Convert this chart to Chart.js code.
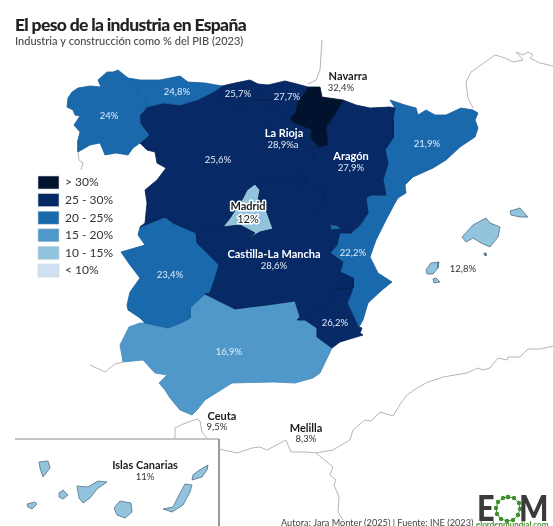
<!DOCTYPE html>
<html>
<head>
<meta charset="utf-8">
<title>El peso de la industria en España</title>
<script src="https://cdn.jsdelivr.net/npm/chart.js@4"></script>
<style>
  html, body { margin: 0; padding: 0; background: #fff; overflow: hidden; }
  canvas { display: block; }
</style>
</head>
<body>
<canvas id="map" width="553" height="526"></canvas>
<script>
// values (% of GDP)
const binLabels = ['> 30%', '25 - 30%', '20 - 25%', '15 - 20%', '10 - 15%', '< 10%']
const binFloors = [30, 25, 20, 15, 10, 0]
const binColors = ['#01122f', '#072a66', '#1b69ad', '#4f98c9', '#93c4de', '#cfe1f1']
const binEdges = ['#01122f', '#03204f', '#175d9c', '#4488b8', '#4f6f85', '#8fa6b8']

const regionNames = ['Galicia', 'Asturias', 'Cantabria', 'Pais Vasco', 'Castilla y Leon', 'La Rioja', 'Navarra', 'Aragon', 'Cataluna', 'Castilla-La Mancha', 'Extremadura', 'Valencia', 'Ademuz', 'Murcia', 'Andalucia', 'Madrid', 'Mallorca', 'Menorca', 'Cabrera', 'Ibiza', 'Formentera', 'La Palma', 'La Gomera', 'El Hierro', 'Tenerife', 'Gran Canaria', 'Fuerteventura', 'Lanzarote']
const regionValues = [24, 24.8, 25.7, 27.7, 25.6, 28.9, 32.4, 27.9, 21.9, 28.6, 23.4, 22.2, 22.2, 26.2, 16.9, 12, 12.8, 12.8, 12.8, 12.8, 12.8, 11, 11, 11, 11, 11, 11, 11]

// outlines in map units
const galicia = [[118,70],[113,72],[107,72],[98,80],[101,87],[90,86],[78,88],[72,92],[68,98],[67,107],[73,110],[75,115],[80,116],[74,125],[80,132],[78,140],[78,152],[90,145],[100,143],[103,150],[105,155],[116,153],[128,155],[133,148],[140,143],[149,135],[143,128],[140,123],[140,115],[147,107],[146,98],[138,95],[135,85],[140,80],[128,78]]
const asturias = [[140,80],[150,80],[160,80],[170,78],[180,76],[188,82],[205,83],[222,86],[213,92],[197,100],[180,105],[163,103],[147,107],[146,98],[138,95],[135,85]]
const cantabria = [[222,86],[235,83],[250,80],[258,84],[268,85],[262,92],[258,100],[252,101],[245,110],[233,112],[218,98],[213,92]]
const paisVasco = [[268,85],[285,81],[297,84],[308,87],[297,103],[295,113],[290,118],[277,112],[270,107],[272,100],[258,100],[262,92]]
const castillaLeon = [[147,107],[163,103],[180,105],[197,100],[213,92],[218,98],[233,112],[245,110],[252,101],[258,100],[272,100],[270,107],[277,112],[268,120],[270,128],[268,140],[285,143],[298,146],[311,147],[313,160],[303,172],[306,182],[296,185],[278,177],[260,183],[255,184],[247,190],[243,198],[230,218],[223,227],[213,225],[200,232],[196,233],[173,223],[165,217],[140,227],[145,223],[147,203],[145,190],[157,180],[166,168],[157,163],[155,152],[147,150],[140,143],[149,135],[140,123],[140,115]]
const rioja = [[277,112],[290,118],[293,123],[311,130],[310,138],[318,147],[311,147],[298,146],[285,143],[268,140],[270,128],[268,120]]
const navarra = [[308,87],[320,87],[322,97],[343,100],[336,113],[326,127],[328,145],[318,147],[310,138],[311,130],[293,123],[290,118],[295,113],[297,103]]
const aragon = [[343,100],[356,105],[370,108],[390,107],[395,108],[393,120],[393,138],[385,150],[388,163],[383,180],[386,195],[371,195],[366,198],[368,213],[360,225],[351,233],[342,229],[336,225],[330,225],[318,215],[325,203],[323,190],[306,182],[303,172],[313,160],[311,147],[318,147],[328,145],[326,127],[336,113]]
const cataluna = [[390,100],[405,105],[416,108],[418,115],[426,110],[435,115],[446,115],[461,108],[473,110],[478,113],[475,120],[478,128],[475,137],[460,147],[446,160],[433,168],[413,177],[405,185],[406,193],[398,198],[395,203],[386,195],[383,180],[388,163],[385,150],[393,138],[393,120],[395,108]]
const castillaMancha = [[255,184],[260,183],[278,177],[296,185],[306,182],[323,190],[325,203],[318,215],[330,225],[331,230],[342,229],[351,233],[340,233],[338,240],[337,245],[330,253],[343,262],[340,272],[353,278],[353,288],[337,288],[333,300],[307,313],[305,320],[297,320],[300,317],[295,301],[267,305],[250,307],[235,309],[205,294],[210,293],[215,278],[219,265],[207,253],[197,243],[196,233],[200,232],[213,225],[223,227],[240,225],[255,233],[248,239],[260,232],[273,229],[265,207],[258,200],[260,190]]
const extremadura = [[140,227],[165,217],[173,223],[196,233],[197,243],[207,253],[219,265],[215,278],[210,293],[205,294],[190,308],[190,318],[183,322],[168,328],[145,323],[140,318],[128,310],[127,305],[130,292],[140,278],[130,265],[121,252],[145,245],[138,235]]
const valencia = [[371,195],[386,195],[395,203],[386,220],[376,240],[370,257],[378,273],[392,282],[382,290],[368,303],[363,320],[359,327],[348,303],[353,290],[353,278],[340,272],[343,262],[330,253],[337,245],[338,240],[340,233],[351,233],[360,225],[368,213],[366,198]]
const ademuz = [[330,226],[336,225],[342,229],[336,232],[331,230]]
const murcia = [[353,288],[359,327],[362,328],[360,333],[363,335],[340,342],[332,348],[317,337],[317,328],[305,320],[307,313],[333,300],[337,288]]
const andalucia = [[205,294],[235,309],[250,307],[267,305],[295,301],[300,317],[297,320],[305,320],[317,328],[317,337],[332,348],[320,373],[313,378],[295,383],[273,382],[232,383],[205,400],[197,410],[192,415],[180,410],[170,398],[165,390],[159,383],[167,375],[155,373],[143,360],[123,362],[120,345],[129,327],[140,323],[145,323],[168,328],[183,322],[190,318],[190,308]]
const madrid = [[255,184],[260,190],[258,200],[265,207],[273,229],[260,232],[248,239],[255,233],[240,225],[223,227],[230,218],[243,198],[247,190]]
const mallorca = [[462,237],[473,225],[486,218],[490,223],[500,227],[498,237],[490,247],[481,243],[473,238],[466,242]]
const menorca = [[510,211],[520,208],[528,217],[520,217],[511,215]]
const cabrera = [[484,253],[486,253],[486,256],[484,255]]
const ibiza = [[426,270],[431,263],[439,262],[438,268],[433,274],[427,274]]
const formentera = [[433,279],[436,278],[440,282],[434,283]]
const laPalma = [[39,462],[48,461],[50,468],[43,477],[40,468]]
const gomera = [[59,493],[63,490],[68,495],[63,499],[59,497]]
const hierro = [[27,504],[35,502],[37,504],[32,509],[28,507]]
const tenerife = [[77,486],[88,487],[98,481],[107,482],[97,489],[90,498],[83,503],[79,498]]
const granCanaria = [[120,501],[131,503],[132,512],[125,518],[117,515],[114,508]]
const fuerteventura = [[185,484],[192,485],[190,492],[183,505],[172,512],[163,509],[173,507],[178,497]]
const lanzarote = [[198,471],[208,465],[207,470],[202,477],[192,480],[193,475]]
const regionShapes = [galicia, asturias, cantabria, paisVasco, castillaLeon, rioja, navarra, aragon, cataluna, castillaMancha, extremadura, valencia, ademuz, murcia, andalucia, madrid, mallorca, menorca, cabrera, ibiza, formentera, laPalma, gomera, hierro, tenerife, granCanaria, fuerteventura, lanzarote]

// neighbouring coasts and borders, grey lines only
const franceWest = [[322,40],[321,55],[320,70],[316,80],[308,84]]
const franceEast = [[473,108],[468,98],[466,82],[471,72],[481,65],[495,55],[505,58],[513,62],[523,60],[516,52],[523,55],[528,52],[533,55],[530,58],[540,63],[553,66]]
const portugalNorth = [[78,152],[79,160],[83,163],[81,170]]
const portugalSouth = [[90,365],[105,372],[115,364],[123,362]]
const ceutaCoast = [[175,438],[175,428],[183,424],[197,419],[200,421],[202,432],[207,438]]
const moroccoCoast = [[219,449],[237,453],[252,448],[260,447],[267,450],[286,440],[288,445],[291,452],[306,452],[316,453],[333,450],[350,440],[353,430],[365,420],[371,421],[380,412],[393,416],[401,403],[407,395],[417,388],[428,382],[443,377],[467,373],[478,368],[483,370],[490,368],[498,358],[507,360],[508,357],[520,357],[528,349],[540,349],[553,346]]
const algeriaBorder = [[316,453],[333,467],[330,475],[336,480],[334,485],[339,497],[338,512],[343,520]]
const greyLines = [franceWest, franceEast, portugalNorth, portugalSouth, ceutaCoast, moroccoCoast, algeriaBorder]

const canariasBox = [[15,439],[219,439],[219,526]]
const logoRing = [[508,497],[514,498],[519,503],[520,509],[518,515],[513,520],[507,521],[501,519],[497,514],[496,508],[498,502],[503,498],[508,497]]

const titleText = 'El peso de la industria en España'
const subtitleText = 'Industria y construcción como % del PIB (2023)'
const sourceText = 'Autora: Jara Monter (2025) | Fuente: INE (2023)'

// text, x, y, bold, colour
const labels = [
  ['Navarra', 348, 76, true, '#1c1c1c'], ['32,4%', 341, 87.5, false, '#333'],
  ['La Rioja', 284, 133, true, '#fff'], ['28,9%a', 283, 145, false, '#e4ecf5'],
  ['Aragón', 351, 156, true, '#fff'], ['27,9%', 351, 167.5, false, '#e4ecf5'],
  ['21,9%', 427, 144, false, '#e4ecf5'], ['24%', 109, 116, false, '#e4ecf5'],
  ['24,8%', 177, 92, false, '#e4ecf5'], ['25,7%', 238, 94, false, '#e4ecf5'],
  ['27,7%', 287, 97, false, '#e4ecf5'], ['25,6%', 218, 159.5, false, '#e4ecf5'],
  ['Castilla-La Mancha', 274, 254, true, '#fff'], ['28,6%', 274, 266, false, '#e4ecf5'],
  ['22,2%', 353, 253, false, '#e4ecf5'], ['23,4%', 170, 274.5, false, '#e4ecf5'],
  ['26,2%', 335, 323, false, '#e4ecf5'], ['16,9%', 229, 351.5, false, '#e4ecf5'],
  ['12,8%', 463, 269, false, '#333'], ['Ceuta', 222, 416, true, '#1c1c1c'],
  ['9,5%', 217, 427, false, '#333'], ['Melilla', 306, 428, true, '#1c1c1c'],
  ['8,3%', 306, 439, false, '#333'], ['Islas Canarias', 145, 465, true, '#1c1c1c'],
  ['11%', 145, 476.5, false, '#333']
]
const haloLabels = [['Madrid', 248, 206, true], ['12%', 248, 219, false]]

function toPoints(list) {
  return list.map(p => ({ x: p[0], y: p[1] }))
}

function binIndex(v) {
  return binFloors.findIndex(f => v >= f)
}

const datasets = []
for (const line of greyLines) {
  datasets.push({ data: toPoints(line), showLine: true, fill: false, borderColor: '#b5b5b5', borderWidth: 1, pointRadius: 0 })
}
datasets.push({ data: toPoints(canariasBox), showLine: true, fill: false, borderColor: '#8a8a8a', borderWidth: 1, pointRadius: 0 })
regionShapes.forEach((shape, i) => {
  const bin = binIndex(regionValues[i])
  datasets.push({
    label: regionNames[i],
    data: toPoints(shape.concat([shape[0]])),
    showLine: true,
    fill: 'shape',
    backgroundColor: binColors[bin],
    borderColor: binEdges[bin],
    borderWidth: 0.8,
    pointRadius: 0
  })
})
datasets.push({ data: toPoints(logoRing), showLine: true, fill: false, borderColor: '#3f8f2f', borderWidth: 1, pointRadius: 2.2, pointBackgroundColor: '#3f8f2f', pointBorderWidth: 0 })

const mapText = {
  id: 'mapText',
  afterDatasetsDraw(chart) {
    const { ctx, scales } = chart
    const px = v => scales.x.getPixelForValue(v)
    const py = v => scales.y.getPixelForValue(v)
    ctx.save()
    ctx.textBaseline = 'middle'

    ctx.textAlign = 'left'
    ctx.fillStyle = '#222'
    ctx.font = '900 17.5px Lato'
    ctx.letterSpacing = '-0.67px'
    ctx.fillText(titleText, px(15), py(25))
    ctx.letterSpacing = '0px'
    ctx.fillStyle = '#4a4a4a'
    ctx.font = '500 11px Lato'
    ctx.fillText(subtitleText, px(15), py(41))

    binLabels.forEach((t, i) => {
      const top = 176 + i * 17.6
      ctx.fillStyle = binColors[i]
      ctx.strokeStyle = '#c8d2dc'
      ctx.lineWidth = 0.6
      ctx.fillRect(px(38), py(top), 21, 13)
      ctx.strokeRect(px(38), py(top), 21, 13)
      ctx.fillStyle = '#333'
      ctx.font = '12px Lato'
      ctx.fillText(t, px(65), py(top + 6.5))
    })

    ctx.textAlign = 'center'
    for (const [t, x, y, bold, color] of labels) {
      ctx.font = (bold ? '700 11px' : '400 9.5px') + ' Lato'
      ctx.fillStyle = color
      ctx.fillText(t, px(x), py(y))
    }
    for (const [t, x, y, bold] of haloLabels) {
      ctx.font = (bold ? '700 11px' : '400 11px') + ' Lato'
      ctx.strokeStyle = '#fff'
      ctx.lineWidth = 3
      ctx.lineJoin = 'round'
      ctx.strokeText(t, px(x), py(y))
      ctx.fillStyle = '#1c1c1c'
      ctx.fillText(t, px(x), py(y))
    }

    ctx.textAlign = 'left'
    ctx.fillStyle = '#444'
    ctx.font = '9.2px Lato'
    ctx.fillText(sourceText, px(281), py(523))

    // logo
    ctx.textBaseline = 'alphabetic'
    ctx.fillStyle = '#3a3a3a'
    ctx.font = '900 36px Lato'
    ctx.save()
    ctx.translate(px(477), py(521))
    ctx.scale(0.85, 1)
    ctx.fillText('E', 0, 0)
    ctx.restore()
    ctx.save()
    ctx.translate(px(519), py(521))
    ctx.scale(0.86, 1)
    ctx.fillText('M', 0, 0)
    ctx.restore()
    ctx.fillStyle = '#3f8f2f'
    ctx.font = '700 8px Lato'
    ctx.fillText('elordenmundial.com', px(476), py(527))
    ctx.restore()
  }
}

new Chart(document.getElementById('map'), {
  type: 'scatter',
  data: { datasets },
  options: {
    responsive: false,
    animation: false,
    events: [],
    layout: { padding: 0, autoPadding: false },
    scales: {
      x: { type: 'linear', min: 0, max: 553, display: false },
      y: { type: 'linear', min: 0, max: 526, reverse: true, display: false }
    },
    plugins: {
      legend: { display: false },
      tooltip: { enabled: false }
    }
  },
  plugins: [mapText]
})
</script>
</body>
</html>
